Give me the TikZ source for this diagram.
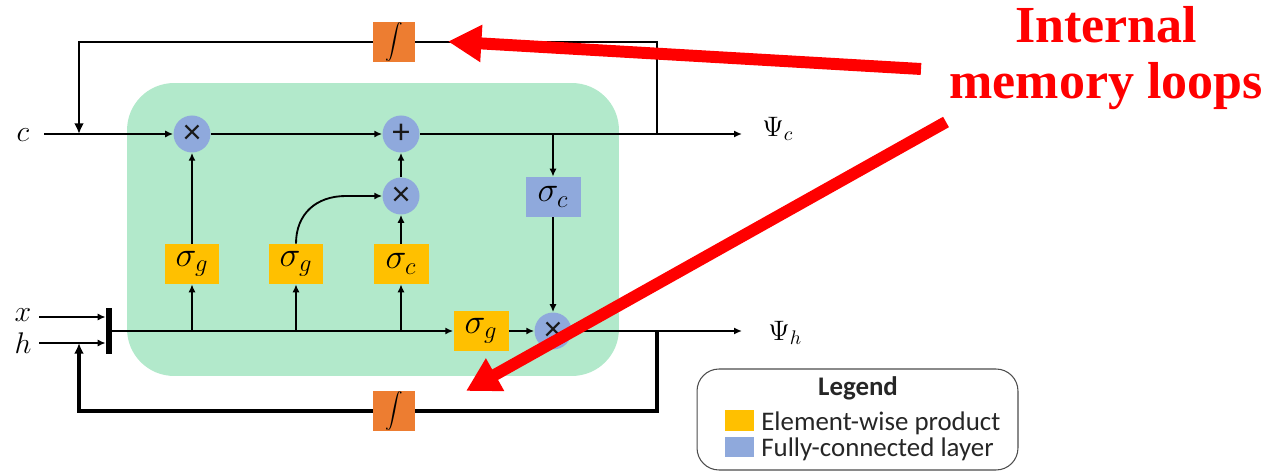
\documentclass[tikz,border=0pt]{standalone}
\usepackage{fix-cm}
\usepackage{fontspec}
\newfontfamily\legendfont{Carlito}
\newfontfamily\calloutfont{Liberation Serif}
\usetikzlibrary{arrows.meta}
\definecolor{panelgreen}{HTML}{B2E9CB}
\definecolor{fcblue}{HTML}{8FA9DC}
\definecolor{prodyellow}{HTML}{FFC000}
\definecolor{intorange}{HTML}{ED7D31}
\definecolor{callred}{HTML}{FF0000}
\tikzset{
  px/.style={x=0.02cm,y=-0.02cm},
  opcircle/.style={circle,fill=fcblue,minimum size=0.74cm,inner sep=0pt,text=black!90,font=\legendfont\fontsize{20}{22}\selectfont},
  gatebox/.style={rectangle,fill=prodyellow,minimum width=1.1cm,minimum height=0.8cm,inner sep=0pt,font=\fontsize{20}{24}\selectfont},
  fcbox/.style={rectangle,fill=fcblue,minimum width=1.1cm,minimum height=0.8cm,inner sep=0pt,font=\fontsize{20}{24}\selectfont},
  intbox/.style={rectangle,fill=intorange,minimum width=0.84cm,minimum height=0.8cm,inner sep=0pt,font=\fontsize{9.5}{11}\selectfont},
  varlabel/.style={inner sep=0pt,font=\fontsize{17}{20}\selectfont},
  outlabel/.style={inner sep=0pt,anchor=west,font=\fontsize{16}{20}\selectfont},
  thinline/.style={draw=black,line width=1.05pt,-{Latex[length=4.5pt,width=4pt]}},
  plainline/.style={draw=black,line width=1.05pt},
  loopline/.style={draw=black,line width=1.6pt},
  looparrow/.style={draw=black,line width=1.7pt,-{Latex[length=6pt,width=5.5pt]}},
  botline/.style={draw=black,line width=1.9pt},
  botarrow/.style={draw=black,line width=1.9pt,-{Latex[length=6pt,width=5.5pt]}},
  callarrow/.style={draw=callred,line width=6.8pt,-{Triangle[length=19pt,width=20pt]}},
  callout/.style={text=callred,inner sep=0pt,anchor=base,font=\calloutfont\bfseries\fontsize{29.6}{32}\selectfont},
  legendtext/.style={inner sep=0pt,anchor=base west,text=black!85,font=\legendfont\fontsize{15.3}{17}\selectfont},
  swatch/.style={rectangle,minimum width=0.58cm,minimum height=0.42cm,inner sep=0pt}
}
\begin{document}
\begin{tikzpicture}[px]
\useasboundingbox (0,0) rectangle (1274,472);
% panel
\node[draw=none,fill=panelgreen,rounded corners=0.94cm,minimum width=9.84cm,minimum height=5.86cm,inner sep=0pt] (panel) at (373,229.5) {};
% operations
\node[opcircle] (m1) at (192,134) {×};
\node[opcircle] (p1) at (401,134) {+};
\node[opcircle] (m2) at (401,196) {×};
\node[opcircle] (m3) at (553,331) {×};
\node[gatebox] (g1) at (192,264) {$\sigma_g$};
\node[gatebox] (g2) at (296,264) {$\sigma_g$};
\node[gatebox] (c1) at (401,264) {$\sigma_c$};
\node[gatebox] (g3) at (481,331) {$\sigma_g$};
\node[fcbox] (c2) at (553,197) {$\sigma_c$};
\node[intbox] (i1) at (394,42) {$\displaystyle\int$};
\node[intbox] (i2) at (394,411) {$\displaystyle\int$};
\node[rectangle,fill=black,minimum width=0.12cm,minimum height=0.92cm,inner sep=0pt] (bar) at (109,331) {};
% labels
\node[varlabel] (lc) at (23,135) {$c$};
\node[varlabel] (lx) at (23,315) {$x$};
\node[varlabel] (lh) at (23,343) {$h$};
\node[outlabel] (oc) at (762,129) {$\Psi_c$};
\node[outlabel] (oh) at (768,333) {$\Psi_h$};
% free ends
\coordinate (cin) at (44,134);
\coordinate (xin) at (39,317);
\coordinate (hin) at (39,343);
\coordinate (cout) at (742,134);
\coordinate (hout) at (742,331);
\coordinate (topr) at (657,134);
\coordinate (botr) at (657,331);
\coordinate (topc) at (657,42);
\coordinate (botc) at (657,411);
\coordinate (topl) at (79,42);
\coordinate (botl) at (79,411);
\coordinate (cj) at (79,134);
\coordinate (hj) at (79,343);
\coordinate (sj) at (553,134);
\coordinate (mainy) at (150,331);
% connectors
\draw[thinline] (cin) -- (m1.west);
\draw[thinline] (m1.east) -- (p1.west);
\draw[plainline] (p1.east) -- (sj);
\draw[thinline] (sj) -- (cout);
\draw[thinline] (sj) -- (c2.north);
\draw[thinline] (c2.south) -- (m3.north);
\draw[thinline] (g1.north) -- (m1.south);
\draw[thinline] (m2.north) -- (p1.south);
\draw[thinline] (c1.north) -- (m2.south);
\draw[thinline] (g2.north) .. controls (296,214) and (316,196) .. (346,196) -- (m2.west);
\draw[thinline] (xin) -- (bar.west |- xin);
\draw[thinline] (hin) -- (bar.west |- hin);
\draw[thinline] (bar.east |- mainy) -- (g3.west);
\draw[thinline] (g1.south |- mainy) -- (g1.south);
\draw[thinline] (g2.south |- mainy) -- (g2.south);
\draw[thinline] (c1.south |- mainy) -- (c1.south);
\draw[thinline] (g3.east) -- (m3.west);
\draw[thinline] (m3.east) -- (hout);
\draw[loopline] (topr) -- (topc) -- (i1.east);
\draw[looparrow] (i1.west) -- (topl) -- (cj);
\draw[botline] (botr) -- (botc) -- (i2.east);
\draw[botarrow] (i2.west) -- (botl) -- (hj);
% legend
\node[draw=black!70,line width=0.6pt,rounded corners=0.44cm,minimum width=6.42cm,minimum height=2.02cm,inner sep=0pt] (legend) at (857.5,419.5) {};
\node[inner sep=0pt,anchor=base,text=black!85,font=\legendfont\bfseries\fontsize{15.3}{17}\selectfont] (ltitle) at (858,395.5) {Legend};
\node[swatch,fill=prodyellow] (s1) at (739.5,420.5) {};
\node[swatch,fill=fcblue] (s2) at (739.5,447) {};
\node[legendtext] (t1) at (761,430.5) {Element-wise product};
\node[legendtext] (t2) at (761,456.5) {Fully-connected layer};
% callouts
\node[callout] (ct1) at (1106,43) {Internal};
\node[callout] (ct2) at (1106,99) {memory loops};
\coordinate (a1s) at (921,69);
\coordinate (a1e) at (448,41.5);
\coordinate (a2s) at (946,122);
\coordinate (a2e) at (466,391);
\draw[callarrow] (a1s) -- (a1e);
\draw[callarrow] (a2s) -- (a2e);
\end{tikzpicture}
\end{document}
